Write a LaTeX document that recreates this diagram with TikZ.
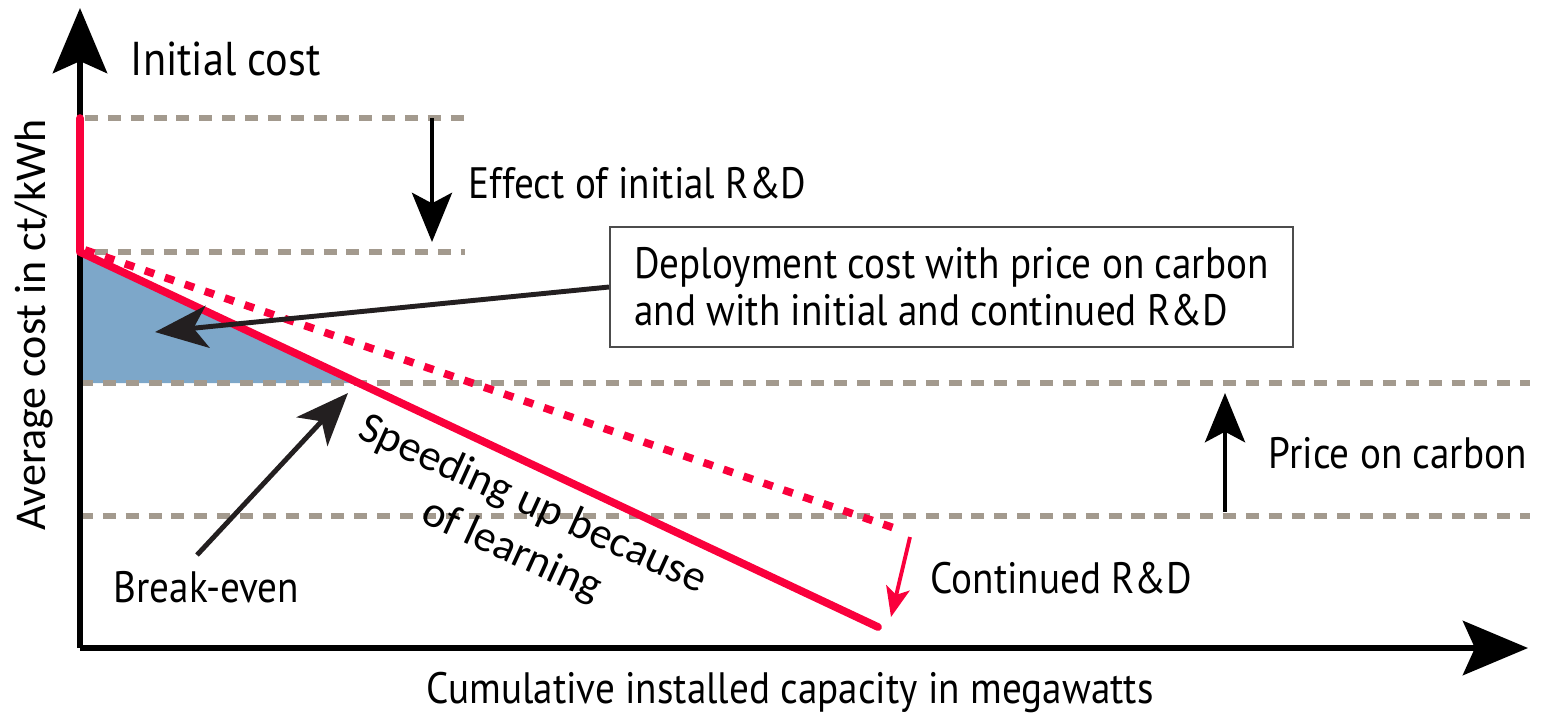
\documentclass[tikz,border=0pt]{standalone}
\usepackage{fontspec}
\setmainfont{PT Sans}[FakeStretch=0.89]
\newfontfamily\calfont{Carlito}
\usetikzlibrary{arrows.meta}
\definecolor{costred}{RGB}{250,0,60}
\definecolor{levelgray}{RGB}{163,154,142}
\definecolor{gainblue}{RGB}{125,167,201}
\definecolor{pointer}{RGB}{35,31,32}
\tikzset{
  axis/.style={line width=1.7pt, -{Stealth[length=18.5pt, width=15.4pt, inset=3.4pt]}},
  level/.style={levelgray, line width=1.7pt, dash pattern=on 3.7pt off 2.8pt},
  shift arrow/.style={line width=1.1pt, -{Stealth[length=14pt, width=11.4pt, inset=3pt]}},
  pointer arrow/.style={pointer, line width=1.4pt, -{Stealth[length=15pt, width=12pt, inset=4pt]}},
  lbl/.style={font=\fontsize{12.5}{14}\selectfont, inner sep=0pt},
}

\begin{document}
\begin{tikzpicture}[x=0.01cm, y=-0.01cm]
    \useasboundingbox (0,0) rectangle (1561,714);
    % axes
    \coordinate (O) at (80,648);
    \coordinate (ytip) at (80,8);
    \coordinate (xtip) at (1528,648);
    % cost curve
    \coordinate (init) at (80,118);
    \coordinate (knee) at (80,252);
    \coordinate (end) at (878,627);
    \coordinate (dotend) at (900,530);
    \coordinate (beven) at (352,383);
    % shaded gain
    \fill[gainblue] (80,255) -- (beven) -- (80,383) -- cycle;
    % levels
    \coordinate (l1a) at (85,118);  \coordinate (l1b) at (465,118);
    \coordinate (l2a) at (95,252);  \coordinate (l2b) at (465,252);
    \coordinate (l3a) at (80,383);  \coordinate (l3b) at (1530,383);
    \coordinate (l4a) at (80,516);  \coordinate (l4b) at (1530,516);
    \draw[level] (l1a) -- (l1b);
    \draw[level] (l2a) -- (l2b);
    \draw[level] (l3a) -- (l3b);
    \draw[level] (l4a) -- (l4b);
    \draw[axis] (O) -- (ytip);
    \draw[axis] (O) -- (xtip);
    \draw[costred, line width=2.2pt, dash pattern=on 2.8pt off 3.2pt] (85,250) -- (dotend);
    \draw[costred, line width=2.2pt, line cap=round, line join=round] (init) -- (knee) -- (end);
    % labels
    \node[lbl, font=\fontsize{13.5}{15}\selectfont, anchor=base west] (initcost) at (130,75) {Initial cost};
    \node[lbl, anchor=base west] (effect) at (468,198) {Effect of initial R\&D};
    \node[lbl, anchor=base west] (price) at (1268,468) {Price on carbon};
    \node[lbl, anchor=base west] (contrd) at (930,593) {Continued R\&D};
    \node[lbl, anchor=base west] (breakeven) at (113,602) {Break-even};
    \node[lbl, anchor=base] (xlabel) at (790,703) {Cumulative installed capacity in megawatts};
    \node[lbl, font=\calfont\fontsize{12.5}{14}\selectfont, rotate=90, anchor=base] (ylabel) at (45,325) {Average cost in ct/kWh};
    \node[lbl, font=\calfont\fontsize{12.5}{14.5}\selectfont, rotate=-24.5, align=center] (speed) at (522,528) {Speeding up because\\of learning};
    \node[lbl, font=\fontsize{12.5}{13.4}\selectfont, draw=black!70, line width=0.5pt,
      minimum width=6.83cm, minimum height=1.2cm, align=left] (deploy) at (951.5,287)
      {Deployment cost with price on carbon\\and with initial and continued R\&D};
    % arrows
    \coordinate (effa) at (432,118);  \coordinate (effb) at (432,242);
    \coordinate (pra) at (1225,512);  \coordinate (prb) at (1225,393);
    \coordinate (cra) at (910,537);   \coordinate (crb) at (891,617);
    \coordinate (deptip) at (155,332);
    \coordinate (bea) at (197,555);   \coordinate (beb) at (348,393);
    \draw[shift arrow] (effa) -- (effb);
    \draw[shift arrow] (pra) -- (prb);
    \draw[costred, line width=1.1pt, -{Stealth[length=8.5pt, width=6.8pt, inset=2pt]}] (cra) -- (crb);
    \draw[pointer arrow] (deploy.west) -- (deptip);
    \draw[pointer arrow] (bea) -- (beb);
\end{tikzpicture}
\end{document}
